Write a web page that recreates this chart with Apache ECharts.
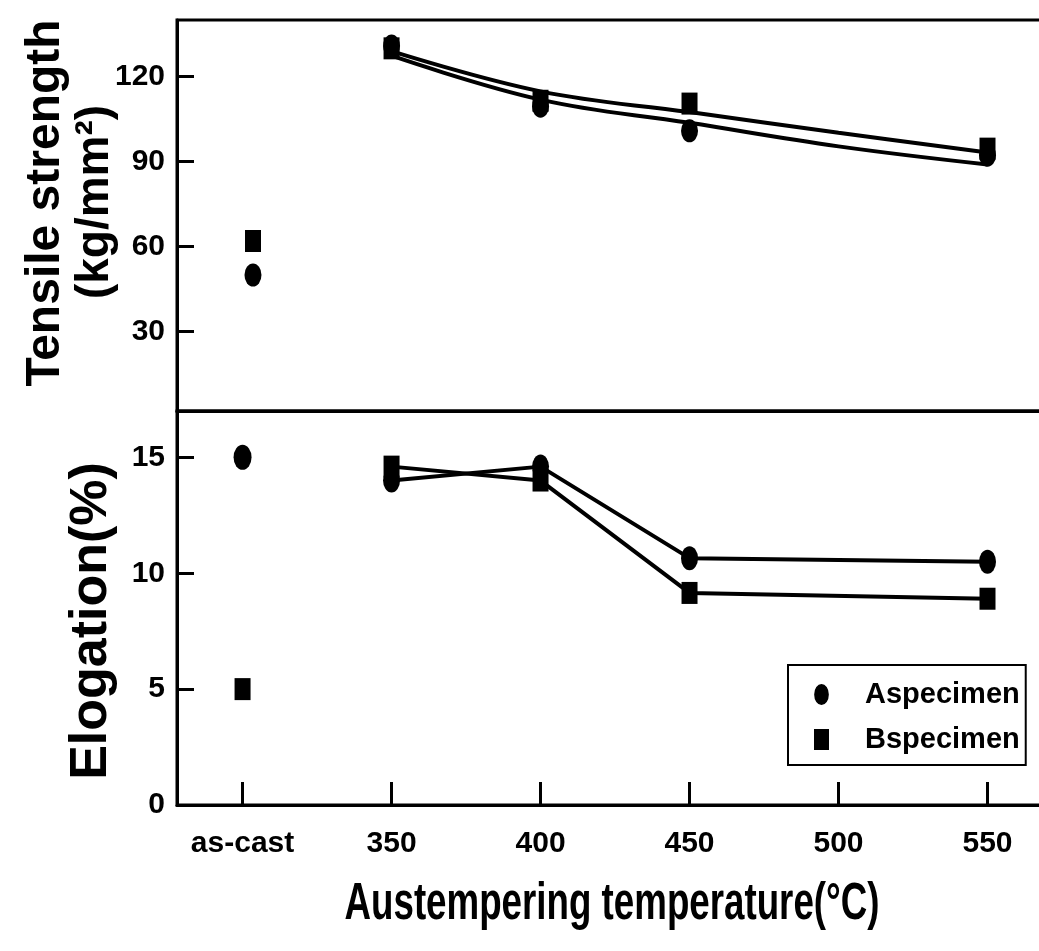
<!DOCTYPE html>
<html style="height: 100%">
<head>
  <meta charset="utf-8">
</head>
<body style="height: 100%; margin: 0; background: #fff">
  <div id="container" style="width: 1039px; height: 951px"></div>

  <script type="text/javascript" src="https://cdn.jsdelivr.net/npm/echarts@6/dist/echarts.min.js"></script>
  <script type="text/javascript">
    // values
    const xTicks = [300, 350, 400, 450, 500, 550];
    const xTickLabels = ['as-cast', '350', '400', '450', '500', '550'];
    const tensileTicks = [30, 60, 90, 120];
    const elongTicks = [0, 5, 10, 15];

    const temps = [350, 400, 450, 550];
    const tensileA = [130.8, 109.6, 100.9, 92.3];
    const tensileB = [130.0, 111.5, 110.5, 94.6];
    const castXTensile = 303.5;
    const castTensileA = 50;
    const castTensileB = 62;

    // fitted curves through the tensile data
    const fitTemps = [350, 400, 450, 500, 550];
    const fitA = [127.4, 111.9, 103.7, 95.4, 89.0];
    const fitB = [129.0, 114.8, 107.5, 100.2, 93.2];

    const elongA = [14.0, 14.6, 10.65, 10.5];
    const elongB = [14.6, 14.0, 9.15, 8.9];
    const castXElong = 300;
    const castElongA = 15.0;
    const castElongB = 5.0;

    const font = 'Arial, "Liberation Sans", sans-serif';
    const ellipse = 'path://M0,10A7,10,0,1,1,14,10A7,10,0,1,1,0,10Z';

    function pairs(xs, ys) {
      return xs.map(function (x, i) { return [x, ys[i]]; });
    }

    var dom = document.getElementById('container');
    var myChart = echarts.init(dom);

    // plot runs past the right edge of the page, as in the scan
    var xBase = {
      type: 'value',
      min: 278,
      max: 575,
      splitLine: { show: false },
      axisLine: { show: true, lineStyle: { color: '#000', width: 3 } }
    };

    var yLabel = {
      color: '#000',
      fontFamily: font,
      fontWeight: 'bold',
      fontSize: 30,
      margin: 12
    };

    var mark = { color: '#000', opacity: 1 };

    var option = {
      animation: false,
      backgroundColor: '#fff',
      color: ['#000'],
      grid: [
        { left: 177, top: 20, width: 885, height: 391, outerBoundsMode: 'none', show: true, borderColor: '#000', borderWidth: 3 },
        { left: 177, top: 411, width: 885, height: 394, outerBoundsMode: 'none', show: true, borderColor: '#000', borderWidth: 3 }
      ],
      xAxis: [
        Object.assign({}, xBase, {
          gridIndex: 0,
          axisTick: { show: false },
          axisLabel: { show: false }
        }),
        Object.assign({}, xBase, {
          gridIndex: 1,
          axisTick: {
            show: true, inside: true, length: 23,
            customValues: xTicks,
            lineStyle: { color: '#000', width: 3 }
          },
          axisLabel: {
            customValues: xTicks,
            margin: 24,
            color: '#000',
            fontFamily: font,
            fontWeight: 'bold',
            fontSize: 30,
            formatter: function (v) {
              return xTickLabels[xTicks.indexOf(v)];
            }
          }
        })
      ],
      yAxis: [
        {
          type: 'value',
          gridIndex: 0,
          min: 2,
          max: 140,
          splitLine: { show: false },
          axisLine: { show: true, lineStyle: { color: '#000', width: 3 } },
          axisTick: {
            inside: true, length: 17, customValues: tensileTicks,
            lineStyle: { color: '#000', width: 3 }
          },
          axisLabel: Object.assign({ customValues: tensileTicks }, yLabel)
        },
        {
          type: 'value',
          gridIndex: 1,
          min: 0,
          max: 17,
          splitLine: { show: false },
          axisLine: { show: true, lineStyle: { color: '#000', width: 3 } },
          axisTick: {
            inside: true, length: 17, customValues: elongTicks,
            lineStyle: { color: '#000', width: 3 }
          },
          axisLabel: Object.assign({ customValues: elongTicks }, yLabel)
        }
      ],
      legend: {
        left: 788,
        top: 665,
        orient: 'vertical',
        selectedMode: false,
        data: [
          { name: 'Aspecimen', icon: ellipse },
          { name: 'Bspecimen', icon: 'rect' }
        ],
        itemWidth: 15,
        itemHeight: 21,
        itemGap: 16,
        padding: [15, 6, 11, 26],
        borderColor: '#000',
        borderWidth: 2,
        formatter: '{gap|}{t|{name}}',
        textStyle: {
          color: '#000',
          rich: {
            gap: { width: 31 },
            t: { fontFamily: font, fontWeight: 'bold', fontSize: 29, lineHeight: 34, color: '#000' }
          }
        }
      },
      graphic: [
        {
          type: 'text', x: 46, y: 203, rotation: Math.PI / 2,
          style: { text: 'Tensile strength', font: 'bold 48px ' + font, fill: '#000', align: 'center', verticalAlign: 'middle' }
        },
        {
          type: 'text', x: 95, y: 202, rotation: Math.PI / 2,
          style: { text: '(kg/mm\u00b2)', font: 'bold 46px ' + font, fill: '#000', align: 'center', verticalAlign: 'middle' }
        },
        {
          type: 'text', x: 92, y: 621, rotation: Math.PI / 2,
          style: { text: 'Elogation(%)', font: 'bold 52px ' + font, fill: '#000', align: 'center', verticalAlign: 'middle' }
        },
        {
          type: 'text', x: 612, y: 905, scaleX: 0.72,
          style: { text: 'Austempering temperature(\u00b0C)', font: 'bold 51px ' + font, fill: '#000', align: 'center', verticalAlign: 'middle' }
        }
      ],
      series: [
        {
          name: 'Aspecimen', type: 'line', xAxisIndex: 0, yAxisIndex: 0,
          data: pairs(fitTemps, fitA), smooth: 0.4, showSymbol: false,
          lineStyle: { color: '#000', width: 4 }, z: 2
        },
        {
          name: 'Bspecimen', type: 'line', xAxisIndex: 0, yAxisIndex: 0,
          data: pairs(fitTemps, fitB), smooth: 0.4, showSymbol: false,
          lineStyle: { color: '#000', width: 4 }, z: 2
        },
        {
          name: 'Aspecimen', type: 'scatter', xAxisIndex: 0, yAxisIndex: 0,
          data: [[castXTensile, castTensileA]].concat(pairs(temps, tensileA)),
          symbol: ellipse, symbolSize: [17, 23], itemStyle: mark, z: 3
        },
        {
          name: 'Bspecimen', type: 'scatter', xAxisIndex: 0, yAxisIndex: 0,
          data: [[castXTensile, castTensileB]].concat(pairs(temps, tensileB)),
          symbol: 'rect', symbolSize: [16, 22], itemStyle: mark, z: 3
        },
        {
          name: 'Aspecimen', type: 'line', xAxisIndex: 1, yAxisIndex: 1,
          data: pairs(temps, elongA), symbol: ellipse, symbolSize: [17, 24],
          showAllSymbol: true,
          lineStyle: { color: '#000', width: 4 }, itemStyle: mark, z: 3
        },
        {
          name: 'Bspecimen', type: 'line', xAxisIndex: 1, yAxisIndex: 1,
          data: pairs(temps, elongB), symbol: 'rect', symbolSize: [16, 22],
          showAllSymbol: true,
          lineStyle: { color: '#000', width: 4 }, itemStyle: mark, z: 3
        },
        {
          name: 'Aspecimen', type: 'scatter', xAxisIndex: 1, yAxisIndex: 1,
          data: [[castXElong, castElongA]],
          symbol: ellipse, symbolSize: [18, 25], itemStyle: mark, z: 3
        },
        {
          name: 'Bspecimen', type: 'scatter', xAxisIndex: 1, yAxisIndex: 1,
          data: [[castXElong, castElongB]],
          symbol: 'rect', symbolSize: [16, 22], itemStyle: mark, z: 3
        }
      ]
    };

    if (option && typeof option === 'object') {
      myChart.setOption(option);
    }
  </script>
</body>
</html>
